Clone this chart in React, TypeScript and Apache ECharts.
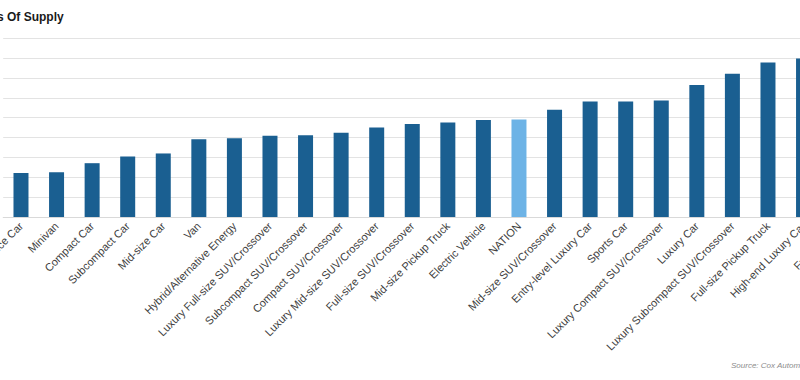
import React, { useEffect, useRef } from "react";
import * as echarts from "echarts";

const categories = [
  "High Performance Car",
  "Minivan",
  "Compact Car",
  "Subcompact Car",
  "Mid-size Car",
  "Van",
  "Hybrid/Alternative Energy",
  "Luxury Full-size SUV/Crossover",
  "Subcompact SUV/Crossover",
  "Compact SUV/Crossover",
  "Luxury Mid-size SUV/Crossover",
  "Full-size SUV/Crossover",
  "Mid-size Pickup Truck",
  "Electric Vehicle",
  "NATION",
  "Mid-size SUV/Crossover",
  "Entry-level Luxury Car",
  "Sports Car",
  "Luxury Compact SUV/Crossover",
  "Luxury Car",
  "Luxury Subcompact SUV/Crossover",
  "Full-size Pickup Truck",
  "High-end Luxury Car",
  "Full-size Car",
];

const daysOfSupply = [
  22.1, 22.6, 27.1, 30.5, 32.0, 39.2, 39.7, 40.9, 41.2, 42.4, 45.1, 46.8,
  47.6, 48.8, 49.1, 54.0, 58.2, 58.2, 58.7, 66.5, 72.2, 77.8, 79.8, 85.0,
];

const highlightCategory = "NATION";
const titleText = "Days Of Supply";
const sourceText = "Source: Cox Automotive";

export default function App() {
  const ref = useRef<HTMLDivElement>(null);

  useEffect(() => {
    document.body.style.margin = "0";
    if (!ref.current) return;
    const chart = echarts.init(ref.current, null, { renderer: "svg" });
    chart.setOption({
      animation: false,
      backgroundColor: "#ffffff",
      title: {
        text: titleText,
        left: -30,
        top: 6,
        textStyle: {
          fontFamily: "Liberation Sans",
          fontSize: 12,
          fontWeight: "bold",
          color: "#1a1a1a",
        },
      },
      graphic: [
        {
          type: "text",
          left: 731,
          top: 361,
          style: {
            text: sourceText,
            font: "italic 8px 'Liberation Sans'",
            fill: "#8c8c8c",
          },
        },
      ],
      grid: {
        left: 3.2,
        top: 38.3,
        width: 853.7,
        bottom: 163,
        containLabel: false,
        outerBoundsMode: "none",
      },
      xAxis: {
        type: "category",
        data: categories,
        boundaryGap: true,
        axisTick: { show: false },
        axisLine: { show: true, lineStyle: { color: "#d9d9d9", width: 1 } },
        axisLabel: {
          interval: 0,
          rotate: 45,
          margin: 7,
          fontFamily: "Liberation Sans",
          fontSize: 11,
          color: "#404040",
        },
      },
      yAxis: {
        type: "value",
        min: 0,
        max: 90,
        interval: 10,
        axisLabel: { show: false },
        axisLine: { show: false },
        axisTick: { show: false },
        splitLine: { lineStyle: { color: "#e3e3e3", width: 1 } },
      },
      series: [
        {
          type: "bar",
          barWidth: 15,
          data: daysOfSupply.map((v, i) => ({
            value: v,
            itemStyle: {
              color: categories[i] === highlightCategory ? "#6db3e6" : "#1a5f91",
            },
          })),
        },
      ],
    });
    return () => chart.dispose();
  }, []);

  return (
    <div
      ref={ref}
      style={{ position: "fixed", left: 0, top: 0, width: 800, height: 380 }}
    />
  );
}
